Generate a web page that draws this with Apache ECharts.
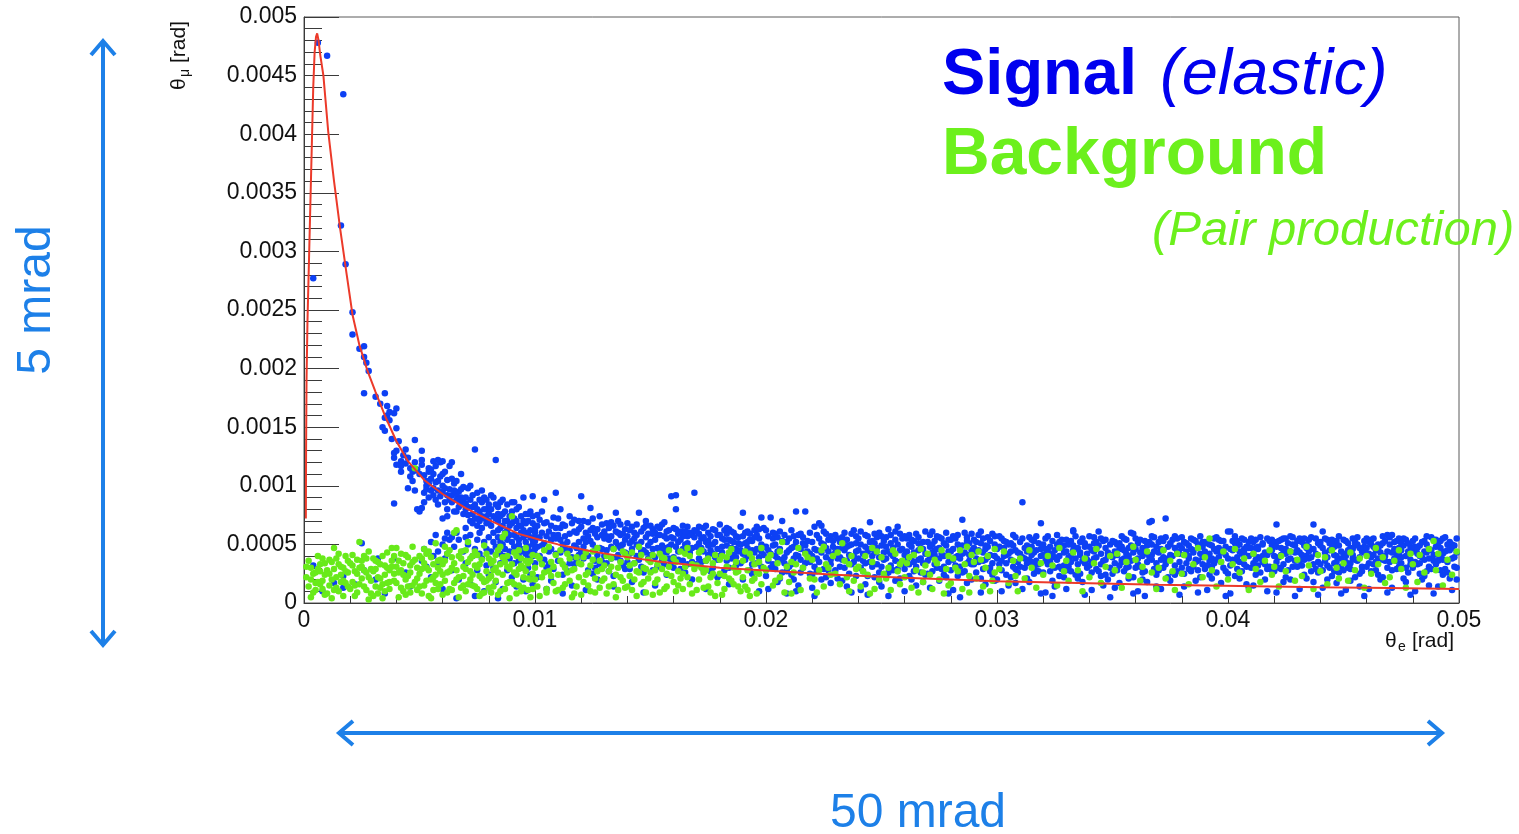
<!DOCTYPE html>
<html>
<head>
<meta charset="utf-8">
<title>θμ vs θe</title>
<script src="https://cdn.jsdelivr.net/npm/echarts@6/dist/echarts.min.js"></script>
<style>
  html, body { margin: 0; padding: 0; background: #ffffff; }
  #chart { width: 1519px; height: 834px; }
</style>
</head>
<body>
<div id="chart"></div>
<script>
// Point lists are flat [x, y, x, y, ...] in integer units:
// x in 0.1 mrad (1e-4 rad), y in 0.01 mrad (1e-5 rad).

// Signal (elastic) near the kinematic peak
const signalPeak = [
  6,478, 10,467, 17,434, 16,322, 18,289, 4,277, 21,248, 21,229, 24,217, 26,219, 26,210, 27,205, 28,198,
  26,179, 31,176, 35,179, 33,170, 36,168, 40,166, 36,160, 37,163, 39,162, 35,158, 37,156, 34,150, 35,147,
  40,149, 48,139, 51,130, 40,130, 39,124, 42,121, 42,117, 47,112, 46,115, 48,113, 54,115, 58,122, 59,120,
  60,121, 56,110, 25,51
];

// Signal following the falling curve, 4–10 mrad
const signalRise = [
  38,140, 41,138, 39,128, 43,126, 44,119, 45,124, 40,118, 46,108, 48,120, 49,114, 47,104, 50,110, 44,131,
  42,112, 39,85, 49,80, 50,78, 51,81, 45,98, 48,96,
  51,118, 52,109, 53,100, 54,112, 55,106, 56,98, 57,103, 58,96, 52,94, 54,90, 55,114, 57,88, 59,108, 60,100,
  53,97, 56,92, 58,84, 60,95, 59,91, 55,96, 51,122, 53,104, 57,117, 60,110, 52,86, 58,104, 56,121, 54,102,
  61,112, 62,105, 63,97, 64,92, 65,102, 66,88, 67,95, 68,84, 69,99, 70,90, 61,86, 62,80, 63,117, 64,120,
  65,78, 66,93, 67,82, 68,97, 69,76, 70,85, 62,92, 64,86, 66,104, 68,90, 61,98, 63,88, 65,96, 67,88, 69,86,
  70,80, 62,74, 66,78, 68,110, 64,106, 60,72, 61,55, 63,54, 64,56, 62,60,
  71,98, 72,88, 73,82, 74,131, 75,94, 76,78, 77,86, 78,72, 79,80, 80,76, 71,75, 72,70, 73,92, 74,84, 75,66,
  76,88, 77,74, 78,90, 79,68, 80,84, 71,82, 73,76, 75,80, 77,96, 79,74, 72,100, 76,70, 78,80, 74,72, 70,64,
  79,88, 75,72, 73,68, 77,64,
  81,80, 82,74, 83,122, 84,70, 85,86, 86,66, 87,78, 88,62, 89,74, 90,68, 81,66, 82,90, 83,72, 84,82, 85,64,
  86,76, 87,60, 88,84, 89,66, 90,78, 82,60, 84,62, 86,88, 88,70, 80,70, 83,84, 85,74, 87,70, 89,58, 90,86,
  81,92, 86,56, 84,76, 88,56,
  91,72, 92,64, 93,82, 94,60, 95,70, 96,58, 97,76, 98,62, 99,68, 100,56, 91,58, 92,80, 93,66, 94,74, 95,56,
  96,68, 97,60, 98,78, 99,54, 100,66, 92,70, 94,66, 96,76, 98,56, 91,86, 93,54, 95,62, 97,70, 99,74, 100,60,
  95,90, 99,91,
  52,46, 55,52, 58,44, 60,50, 62,42, 65,48, 67,54, 69,44, 71,50, 72,58, 74,46, 75,54, 76,42, 78,52, 79,46,
  80,56, 81,44, 82,52, 83,48, 84,56, 85,42, 86,50, 87,46, 88,54, 89,44, 90,52, 91,48, 92,42, 93,50, 94,46,
  95,44, 96,52, 97,48, 98,44, 99,50, 100,46, 73,40, 77,38, 81,36, 85,52, 89,38, 93,40, 97,38, 57,58, 66,60,
  70,56, 76,60, 84,46, 92,56, 96,42, 99,40
];

// Signal at small θμ, 0–10 mrad
const signalLow = [
  4,32, 13,17, 17,13, 17,23, 8,10, 22,16, 26,28, 31,20, 32,38, 39,38, 35,8, 44,26, 46,14, 51,36, 53,31,
  56,40, 58,33, 61,38, 55,22, 60,12, 64,28, 67,20, 70,34, 72,16, 75,28, 78,10, 80,24, 82,30, 83,18, 85,34,
  86,12, 88,28, 90,22, 91,34, 92,14, 94,30, 95,20, 96,10, 97,30, 98,24, 99,16, 100,34, 74,6, 66,4, 79,32,
  87,40, 93,36, 84,4
];

// Signal band, 10–20 mrad
const signalBand1 = [
  100,62, 101,48, 102,71, 103,35, 104,88, 105,57, 106,44, 107,66, 108,29, 109,94, 100,53, 101,75, 102,40, 103,60, 104,51, 105,69, 106,33, 107,46, 108,58, 109,64, 100,41, 101,22, 102,56, 103,78, 104,37, 105,12, 106,61, 107,54, 108,73, 109,42, 101,66, 103,49, 105,30, 107,19, 109,55, 104,68,
  110,58, 111,43, 112,67, 113,31, 114,52, 115,74, 116,39, 117,61, 118,47, 119,70, 110,36, 111,64, 112,50, 113,57, 114,27, 115,45, 116,68, 117,33, 118,60, 119,41, 110,72, 111,54, 112,24, 113,66, 114,44, 115,59, 116,15, 117,49, 118,37, 119,63, 111,80, 113,46, 115,34, 117,71, 119,52, 112,8,
  120,91, 121,55, 122,42, 123,69, 124,81, 125,50, 126,36, 127,63, 128,47, 129,58, 120,65, 121,38, 122,60, 123,28, 124,53, 125,72, 126,45, 127,56, 128,33, 129,67, 120,44, 121,70, 122,52, 123,40, 124,62, 125,25, 126,59, 127,41, 128,74, 129,35, 121,48, 123,57, 125,64, 127,20, 129,46, 122,11, 126,30,
  130,61, 131,45, 132,54, 133,38, 134,66, 135,77, 136,49, 137,58, 138,32, 139,63, 130,40, 131,68, 132,27, 133,57, 134,46, 135,52, 136,70, 137,36, 138,59, 139,43, 130,55, 131,34, 132,64, 133,48, 134,23, 135,61, 136,41, 137,67, 138,50, 139,29, 131,57, 133,69, 135,39, 137,47, 139,54, 134,14, 136,60,
  140,57, 141,42, 142,65, 143,34, 144,50, 145,77, 146,61, 147,45, 148,56, 149,38, 140,68, 141,29, 142,53, 143,60, 144,40, 145,48, 146,31, 147,64, 148,43, 149,59, 140,35, 141,62, 142,46, 143,55, 144,67, 145,37, 146,52, 147,26, 148,66, 149,49, 142,18, 144,58, 146,44, 148,70, 141,51, 147,9,
  150,52, 151,63, 152,39, 153,58, 154,45, 155,67, 156,33, 157,55, 158,48, 159,91, 150,41, 151,28, 152,60, 153,47, 154,64, 155,36, 156,57, 157,43, 158,62, 159,50, 150,66, 151,46, 152,54, 153,31, 154,58, 155,49, 156,69, 157,24, 158,38, 159,56, 151,59, 153,65, 155,42, 157,61, 159,34, 152,15, 156,47,
  160,55, 161,80, 162,44, 163,61, 164,36, 165,50, 166,65, 167,42, 168,58, 169,94, 160,39, 161,63, 162,52, 163,29, 164,57, 165,45, 166,33, 167,60, 168,47, 169,62, 160,64, 161,48, 162,37, 163,54, 164,66, 165,26, 166,51, 167,43, 168,35, 169,56, 162,59, 164,46, 166,57, 168,20, 160,30, 165,61, 161,92,
  170,48, 171,59, 172,35, 173,64, 174,52, 175,41, 176,57, 177,30, 178,62, 179,46, 170,61, 171,38, 172,55, 173,44, 174,66, 175,53, 176,27, 177,50, 178,39, 179,58, 170,33, 171,65, 172,47, 173,56, 174,36, 175,60, 176,45, 177,63, 178,52, 179,22, 171,51, 173,28, 175,49, 177,42, 179,37, 174,12,
  180,58, 181,43, 182,62, 183,36, 184,54, 185,47, 186,60, 187,32, 188,51, 189,65, 180,40, 181,55, 182,28, 183,49, 184,63, 185,38, 186,52, 187,57, 188,44, 189,34, 180,67, 181,48, 182,54, 183,59, 184,30, 185,61, 186,41, 187,46, 188,56, 189,50, 181,24, 183,64, 185,53, 187,39, 189,45, 184,16,
  190,77, 191,51, 192,40, 193,59, 194,45, 195,62, 196,34, 197,55, 198,73, 199,48, 190,57, 191,37, 192,61, 193,28, 194,53, 195,43, 196,58, 197,39, 198,50, 199,64, 190,42, 191,60, 192,47, 193,54, 194,33, 195,56, 196,46, 197,63, 198,31, 199,41, 192,52, 194,25, 196,65, 198,44, 190,20, 197,10
];

// Signal band, 20–30 mrad
const signalBand2 = [
  200,48, 201,36, 202,73, 203,55, 204,29, 205,44, 206,61, 207,70, 208,39, 209,52, 200,23, 201,57, 202,42, 203,33, 204,50, 205,18, 206,46, 207,37, 208,58, 209,27, 200,62, 201,45, 202,30, 203,49, 204,40, 205,56, 206,21, 207,53, 208,34, 209,43, 201,12, 203,60, 205,38, 207,26, 209,8, 204,59,
  210,45, 211,33, 212,57, 213,78, 214,40, 215,26, 216,51, 217,78, 218,36, 219,60, 210,55, 211,47, 212,20, 213,41, 214,58, 215,37, 216,30, 217,49, 218,44, 219,25, 210,31, 211,62, 212,38, 213,52, 214,15, 215,46, 216,56, 217,34, 218,53, 219,42, 211,24, 213,10, 215,59, 217,43, 219,35, 212,48,
  220,52, 221,65, 222,38, 223,68, 224,66, 225,29, 226,47, 227,54, 228,33, 229,41, 220,24, 221,46, 222,58, 223,35, 224,20, 225,50, 226,39, 227,28, 228,57, 229,48, 220,40, 221,31, 222,45, 223,55, 224,43, 225,61, 226,22, 227,44, 228,37, 229,53, 220,13, 222,27, 224,51, 226,59, 228,17, 221,6,
  230,43, 231,55, 232,31, 233,47, 234,60, 235,36, 236,25, 237,50, 238,40, 239,57, 230,28, 231,38, 232,52, 233,19, 234,45, 235,54, 236,41, 237,33, 238,62, 239,23, 230,58, 231,46, 232,39, 233,56, 234,30, 235,14, 236,49, 237,59, 238,35, 239,44, 231,21, 233,37, 235,48, 237,9, 239,51, 234,53,
  240,38, 241,50, 242,27, 243,58, 244,44, 245,35, 246,53, 247,22, 248,47, 249,60, 240,55, 241,30, 242,42, 243,16, 244,57, 245,69, 246,40, 247,51, 248,33, 249,26, 240,45, 241,61, 242,36, 243,48, 244,23, 245,52, 246,31, 247,43, 248,56, 249,39, 241,11, 243,34, 245,46, 247,59, 249,18, 244,7,
  250,49, 251,37, 252,56, 253,63, 254,42, 255,28, 256,54, 257,65, 258,35, 259,46, 250,31, 251,53, 252,24, 253,44, 254,58, 255,40, 256,19, 257,50, 258,59, 259,33, 250,57, 251,43, 252,38, 253,26, 254,51, 255,47, 256,36, 257,29, 258,45, 259,55, 250,14, 252,48, 254,32, 256,61, 258,21, 253,6,
  260,41, 261,55, 262,33, 263,48, 264,27, 265,59, 266,45, 267,38, 268,52, 269,24, 260,57, 261,36, 262,50, 263,20, 264,43, 265,31, 266,56, 267,47, 268,34, 269,61, 260,29, 261,44, 262,58, 263,39, 264,53, 265,15, 266,37, 267,26, 268,46, 269,42, 260,10, 262,23, 264,35, 266,51, 268,18, 263,54,
  270,52, 271,39, 272,61, 273,45, 274,30, 275,56, 276,42, 277,24, 278,49, 279,35, 270,36, 271,58, 272,27, 273,53, 274,46, 275,19, 276,55, 277,40, 278,60, 279,44, 270,25, 271,48, 272,43, 273,33, 274,57, 275,38, 276,29, 277,51, 278,22, 279,54, 271,13, 273,41, 275,47, 277,31, 279,8, 272,50,
  280,44, 281,57, 282,32, 283,50, 284,38, 285,71, 286,27, 287,53, 288,41, 289,59, 280,28, 281,37, 282,55, 283,23, 284,47, 285,42, 286,60, 287,34, 288,51, 289,20, 280,54, 281,46, 282,39, 283,58, 284,31, 285,49, 286,43, 287,17, 288,36, 289,45, 281,11, 283,40, 285,26, 287,56, 289,33, 284,5,
  290,54, 291,38, 292,58, 293,61, 294,29, 295,46, 296,56, 297,41, 298,24, 299,50, 290,33, 291,52, 292,45, 293,21, 294,55, 295,37, 296,48, 297,30, 298,59, 299,40, 290,47, 291,26, 292,35, 293,51, 294,43, 295,16, 296,39, 297,53, 298,34, 299,57, 291,44, 293,9, 295,49, 297,27, 299,19, 294,36
];

// Signal band, 30–40 mrad
const signalBand3 = [
  300,46, 301,33, 302,55, 303,40, 304,24, 305,50, 306,37, 307,58, 308,29, 309,43, 300,20, 301,48, 302,36, 303,53, 304,41, 305,15, 306,51, 307,31, 308,45, 309,26, 300,38, 301,57, 302,28, 303,47, 304,34, 305,42, 306,22, 307,49, 308,56, 309,35, 302,10, 304,52, 306,44, 308,17,
  310,42, 311,86, 312,30, 313,49, 314,37, 315,54, 316,25, 317,45, 318,33, 319,68, 310,52, 311,39, 312,47, 313,21, 314,56, 315,35, 316,43, 317,28, 318,51, 319,40, 310,31, 311,55, 312,38, 313,44, 314,18, 315,48, 316,53, 317,36, 318,27, 319,46, 311,12, 313,34, 315,41, 317,57, 319,8, 316,32,
  320,50, 321,36, 322,44, 323,27, 324,53, 325,39, 326,58, 327,31, 328,47, 329,22, 320,41, 321,55, 322,33, 323,48, 324,19, 325,45, 326,37, 327,52, 328,29, 329,43, 320,26, 321,46, 322,57, 323,35, 324,42, 325,14, 326,50, 327,40, 328,54, 329,32, 321,9, 323,38, 325,30, 327,23, 329,49, 324,6,
  330,44, 331,31, 332,53, 333,61, 334,38, 335,47, 336,25, 337,55, 338,34, 339,42, 330,28, 331,50, 332,40, 333,62, 334,46, 335,21, 336,52, 337,36, 338,48, 339,30, 330,54, 331,39, 332,27, 333,45, 334,57, 335,33, 336,43, 337,18, 338,51, 339,37, 330,12, 332,35, 334,24, 336,41, 338,7, 333,49,
  340,48, 341,35, 342,56, 343,29, 344,61, 345,42, 346,53, 347,24, 348,40, 349,50, 340,32, 341,45, 342,38, 343,52, 344,27, 345,55, 346,36, 347,47, 348,20, 349,41, 340,57, 341,26, 342,44, 343,39, 344,49, 345,33, 346,15, 347,54, 348,43, 349,30, 341,11, 343,46, 345,23, 347,37, 349,5, 342,51,
  350,39, 351,52, 352,28, 353,46, 354,35, 355,55, 356,42, 357,21, 358,49, 359,59, 350,25, 351,44, 352,50, 353,32, 354,57, 355,38, 356,30, 357,47, 358,36, 359,43, 350,53, 351,34, 352,41, 353,17, 354,48, 355,27, 356,54, 357,40, 358,60, 359,22, 351,13, 353,51, 355,45, 357,31, 359,8, 354,37,
  360,46, 361,33, 362,54, 363,40, 364,27, 365,49, 366,69, 367,37, 368,56, 369,24, 360,30, 361,51, 362,43, 363,20, 364,45, 365,35, 366,52, 367,41, 368,29, 369,48, 360,55, 361,38, 362,31, 363,47, 364,53, 365,18, 366,39, 367,57, 368,44, 369,34, 361,10, 363,26, 365,42, 367,50, 369,14, 364,6, 367,70,
  370,43, 371,55, 372,30, 373,72, 374,38, 375,50, 376,26, 377,47, 378,55, 379,35, 370,52, 371,37, 372,45, 373,56, 374,22, 375,41, 376,54, 377,32, 378,44, 379,49, 370,28, 371,46, 372,53, 373,36, 374,48, 375,19, 376,40, 377,57, 378,27, 379,42, 371,12, 373,33, 375,51, 377,24, 379,7, 372,39,
  380,56, 381,41, 382,34, 383,49, 384,27, 385,45, 386,53, 387,36, 388,22, 389,48, 380,30, 381,52, 382,44, 383,38, 384,55, 385,31, 386,19, 387,50, 388,42, 389,33, 380,47, 381,25, 382,51, 383,40, 384,46, 385,54, 386,35, 387,28, 388,57, 389,39, 381,14, 383,29, 385,43, 387,9, 389,52, 386,37,
  390,44, 391,32, 392,50, 393,38, 394,55, 395,26, 396,47, 397,35, 398,53, 399,41, 390,29, 391,51, 392,42, 393,21, 394,46, 395,37, 396,54, 397,43, 398,30, 399,48, 390,52, 391,40, 392,24, 393,49, 394,34, 395,56, 396,39, 397,17, 398,45, 399,27, 391,11, 393,31, 395,44, 397,53, 399,6, 392,36
];

// Signal band, 40–50 mrad
const signalBand4 = [
  400,61, 401,61, 402,37, 403,51, 404,29, 405,44, 406,55, 407,33, 408,48, 409,40, 400,25, 401,46, 402,53, 403,36, 404,49, 405,21, 406,42, 407,54, 408,31, 409,47, 400,38, 401,32, 402,45, 403,57, 404,39, 405,50, 406,27, 407,43, 408,16, 409,52, 401,8, 403,23, 405,35, 407,46, 409,13, 404,53,
  410,47, 411,34, 412,54, 413,39, 414,26, 415,50, 416,43, 417,55, 418,31, 419,45, 410,30, 411,52, 412,37, 413,48, 414,56, 415,35, 416,20, 417,41, 418,53, 419,28, 410,55, 411,42, 412,24, 413,46, 414,38, 415,51, 416,33, 417,29, 418,44, 419,54, 411,15, 413,32, 415,40, 417,10, 419,49, 412,47,
  420,52, 421,67, 422,39, 423,47, 424,33, 425,55, 426,28, 427,44, 428,50, 429,36, 420,40, 421,48, 422,30, 423,54, 424,45, 425,22, 426,51, 427,38, 428,56, 429,43, 420,27, 421,35, 422,53, 423,41, 424,18, 425,46, 426,37, 427,57, 428,31, 429,49, 421,9, 423,29, 425,42, 427,20, 429,6, 424,55,
  430,45, 431,55, 432,32, 433,49, 434,40, 435,54, 436,27, 437,67, 438,42, 439,35, 430,31, 431,43, 432,52, 433,24, 434,47, 435,38, 436,56, 437,46, 438,29, 439,51, 430,53, 431,36, 432,41, 433,55, 434,21, 435,44, 436,39, 437,33, 438,55, 439,26, 431,12, 433,37, 435,48, 437,18, 439,7, 434,50,
  440,49, 441,61, 442,36, 443,54, 444,30, 445,46, 446,41, 447,53, 448,26, 449,44, 440,33, 441,47, 442,55, 443,39, 444,51, 445,23, 446,48, 447,35, 448,57, 449,31, 440,52, 441,28, 442,43, 443,20, 444,45, 445,54, 446,34, 447,40, 448,49, 449,38, 441,13, 443,32, 445,50, 447,17, 449,8, 446,27,
  450,42, 451,53, 452,30, 453,47, 454,55, 455,37, 456,50, 457,25, 458,44, 459,53, 450,28, 451,40, 452,51, 453,34, 454,46, 455,22, 456,56, 457,39, 458,31, 459,48, 450,54, 451,35, 452,45, 453,19, 454,41, 455,52, 456,36, 457,47, 458,27, 459,43, 451,11, 453,29, 455,49, 457,14, 459,6, 454,38,
  460,47, 461,34, 462,54, 463,41, 464,28, 465,50, 466,43, 467,57, 468,36, 469,58, 460,31, 461,52, 462,39, 463,55, 464,45, 465,24, 466,49, 467,37, 468,53, 469,30, 460,55, 461,42, 462,27, 463,48, 464,35, 465,46, 466,20, 467,51, 468,40, 469,44, 461,12, 463,33, 465,38, 467,22, 469,9, 462,50,
  470,50, 471,58, 472,38, 473,53, 474,31, 475,45, 476,55, 477,40, 478,26, 479,48, 470,35, 471,43, 472,52, 473,29, 474,47, 475,39, 476,21, 477,54, 478,44, 479,33, 470,56, 471,28, 472,46, 473,41, 474,55, 475,34, 476,49, 477,18, 478,51, 479,37, 471,13, 473,36, 475,51, 477,30, 479,7, 474,42,
  480,44, 481,55, 482,33, 483,49, 484,39, 485,53, 486,27, 487,46, 488,56, 489,36, 480,30, 481,48, 482,42, 483,25, 484,52, 485,37, 486,50, 487,31, 488,45, 489,54, 480,53, 481,35, 482,47, 483,40, 484,20, 485,44, 486,57, 487,38, 488,29, 489,41, 481,10, 483,34, 485,23, 487,15, 489,8, 486,43,
  490,48, 491,36, 492,53, 493,42, 494,29, 495,50, 496,45, 497,50, 498,39, 499,55, 490,33, 491,51, 492,40, 493,55, 494,44, 495,26, 496,52, 497,47, 498,31, 499,43, 490,54, 491,41, 492,28, 493,37, 494,56, 495,35, 496,21, 497,38, 498,49, 499,30, 491,14, 493,24, 495,45, 497,11, 499,20, 492,47
];

// Background (pair production), 0–10 mrad
const backgroundNear = [
  1,22, 2,14, 3,30, 4,9, 5,26, 6,18, 7,33, 8,12, 9,24, 2,36, 3,20, 5,11, 6,29, 7,16, 8,38, 9,7, 1,31, 4,25, 6,40, 8,19, 3,5, 7,27, 9,34, 5,17,
  10,28, 11,15, 12,35, 13,47, 14,22, 15,10, 16,31, 17,19, 18,40, 19,26, 10,8, 11,37, 12,20, 13,29, 14,13, 15,33, 16,24, 17,6, 18,17, 19,36, 11,25, 13,11, 15,42, 17,30, 19,14, 12,4, 14,38, 16,18, 18,27,
  20,34, 21,18, 22,27, 23,9, 24,52, 25,31, 26,14, 27,38, 28,22, 29,29, 20,12, 21,41, 22,6, 23,25, 24,16, 25,36, 26,28, 27,11, 28,44, 29,19, 21,32, 23,37, 25,21, 27,26, 29,8, 22,15, 24,30, 26,40, 28,3,
  30,27, 31,14, 32,35, 33,21, 34,40, 35,10, 36,30, 37,18, 38,47, 39,25, 30,38, 31,29, 32,8, 33,33, 34,16, 35,24, 36,43, 37,12, 38,31, 39,19, 30,6, 31,36, 33,13, 35,32, 37,28, 39,40, 32,22, 34,4, 36,17, 38,36,
  40,47, 41,26, 42,13, 43,34, 44,20, 45,39, 46,9, 47,48, 48,115, 49,30, 40,17, 41,36, 42,28, 43,10, 44,41, 45,23, 46,32, 47,15, 48,37, 49,21, 40,31, 42,42, 44,7, 46,26, 48,18, 41,5, 43,24, 45,14, 47,35, 49,11,
  50,25, 51,38, 52,15, 53,30, 54,44, 55,20, 56,33, 57,51, 58,12, 59,27, 50,40, 51,8, 52,34, 53,19, 54,28, 55,39, 56,11, 57,24, 58,36, 59,16, 50,14, 52,46, 54,6, 56,22, 58,30, 51,29, 53,42, 55,4, 57,17, 59,37,
  60,33, 61,19, 62,42, 63,27, 64,11, 65,60, 66,62, 67,22, 68,38, 69,15, 60,24, 61,36, 62,9, 63,45, 64,30, 65,17, 66,28, 67,40, 68,13, 69,31, 60,7, 62,26, 64,39, 66,20, 68,44, 61,48, 63,12, 65,34, 67,5, 69,23,
  70,29, 71,16, 72,38, 73,24, 74,44, 75,12, 76,33, 77,21, 78,49, 79,27, 70,10, 71,35, 72,20, 73,40, 74,14, 75,30, 76,6, 77,37, 78,18, 79,42, 70,45, 72,27, 74,32, 76,23, 78,9, 71,52, 73,15, 75,41, 77,8, 79,19,
  80,21, 81,34, 82,14, 83,41, 84,26, 85,10, 86,56, 87,59, 88,31, 89,18, 80,38, 81,9, 82,28, 83,19, 84,45, 85,33, 86,24, 87,12, 88,40, 89,29, 80,13, 82,36, 84,7, 86,39, 88,17, 81,23, 83,30, 85,48, 87,35, 89,4,
  90,74, 91,26, 92,40, 93,15, 94,32, 95,22, 96,47, 97,11, 98,36, 99,25, 90,18, 91,43, 92,8, 93,29, 94,38, 95,13, 96,27, 97,34, 98,20, 99,41, 90,33, 92,24, 94,10, 96,36, 98,5, 91,16, 93,45, 95,30, 97,21, 99,12
];

// Background, 10–20 mrad
const backgroundMid = [
  100,30, 101,14, 102,38, 103,22, 104,45, 105,9, 106,27, 107,35, 108,17, 109,41, 100,20, 102,6, 103,33, 104,26, 105,12, 106,48, 107,23, 108,31, 109,10, 101,40,
  110,24, 111,36, 112,13, 113,30, 114,42, 115,19, 116,28, 117,8, 118,39, 119,22, 110,11, 111,45, 112,33, 113,16, 114,26, 115,38, 116,5, 117,29, 118,14, 119,34,
  120,33, 121,18, 122,43, 123,26, 124,10, 125,37, 126,21, 127,47, 128,13, 129,29, 120,7, 121,39, 122,24, 123,15, 124,32, 125,44, 126,9, 127,27, 128,36, 129,19,
  130,21, 131,40, 132,14, 133,31, 134,46, 135,24, 136,11, 137,35, 138,19, 139,42, 130,32, 131,8, 132,27, 133,38, 134,16, 135,5, 136,30, 137,22, 138,44, 139,13,
  140,39, 141,23, 142,11, 143,34, 144,27, 145,48, 146,16, 147,30, 148,9, 149,37, 140,14, 141,32, 142,43, 143,20, 144,6, 145,26, 146,41, 147,18, 148,29, 149,21,
  150,26, 151,41, 152,17, 153,33, 154,9, 155,29, 156,38, 157,14, 158,45, 159,23, 150,35, 152,28, 154,42, 156,12, 158,31, 151,7, 153,20, 155,39, 157,25,
  160,18, 161,35, 162,27, 163,44, 164,12, 165,31, 166,22, 167,40, 168,8, 169,29, 160,38, 162,15, 164,25, 166,47, 168,33, 161,10, 163,21, 165,42, 167,16,
  170,32, 171,20, 172,45, 173,13, 174,28, 175,38, 176,9, 177,25, 178,41, 179,17, 170,11, 172,30, 174,36, 176,22, 178,6, 171,43, 173,26, 175,14, 177,34,
  180,25, 181,40, 182,12, 183,31, 184,21, 185,46, 186,16, 187,35, 188,27, 189,10, 180,37, 182,23, 184,43, 186,30, 188,14, 181,7, 183,39, 185,19, 187,26,
  190,36, 191,14, 192,28, 193,42, 194,19, 195,33, 196,8, 197,25, 198,47, 199,30, 190,22, 192,11, 194,38, 196,26, 198,16, 191,44, 193,6, 195,21, 197,35
];

// Background, 20–50 mrad
const backgroundFar = [
  200,28, 202,41, 203,15, 205,34, 206,22, 207,52, 208,9, 209,31, 201,38, 204,19, 206,44,
  210,18, 211,35, 212,26, 214,47, 215,11, 216,30, 218,39, 219,21, 211,8, 213,33, 217,42,
  220,37, 221,20, 223,28, 224,45, 225,14, 226,33, 228,24, 229,40, 222,9, 225,48, 227,30,
  230,25, 231,43, 232,16, 234,36, 235,22, 236,10, 237,40, 239,29, 233,51, 236,33, 238,19,
  240,31, 241,14, 243,40, 244,24, 245,8, 246,35, 248,44, 249,20, 242,27, 246,47, 247,12,
  250,39, 252,21, 253,30, 254,11, 255,45, 257,27, 258,16, 259,36, 251,25, 256,42, 258,33,
  260,22, 261,34, 263,13, 264,41, 265,28, 267,46, 268,18, 269,32, 262,39, 266,9, 268,26,
  270,42, 271,24, 272,12, 274,34, 275,20, 276,45, 278,29, 279,15, 273,37, 277,8, 279,40,
  280,17, 281,38, 283,27, 284,45, 285,12, 286,33, 288,23, 289,41, 282,30, 287,48, 288,9,
  290,35, 291,21, 292,44, 294,14, 295,30, 296,40, 297,10, 299,26, 293,37, 298,19, 299,46,
  301,29, 303,44, 305,17, 307,36, 308,23, 309,10, 310,38, 312,21, 314,45, 315,30, 317,13, 319,34,
  320,24, 322,40, 324,32, 326,15, 327,47, 329,27, 330,36, 331,19, 333,43, 335,28, 337,10, 338,38,
  340,22, 342,34, 343,46, 345,17, 347,31, 349,40, 351,28, 352,42, 354,13, 356,35, 357,23, 359,48,
  360,37, 362,19, 363,31, 365,44, 367,26, 369,12, 370,30, 372,45, 373,21, 375,36, 377,11, 378,42, 376,27,
  380,25, 381,41, 383,16, 385,33, 387,47, 389,22, 390,39, 392,55, 393,28, 395,14, 397,35, 398,44,
  400,20, 402,33, 403,46, 405,26, 407,38, 409,11, 411,42, 412,29, 414,18, 416,36, 418,45, 419,24,
  420,31, 422,14, 423,40, 425,27, 427,44, 429,19, 430,37, 432,23, 434,48, 435,32, 437,12, 439,41,
  440,27, 442,39, 443,16, 445,45, 447,30, 448,21, 450,34, 452,19, 453,43, 455,28, 457,38, 459,13,
  460,40, 462,25, 464,47, 465,33, 467,39, 468,17, 470,22, 472,36, 474,45, 475,29, 477,13, 479,42,
  480,33, 482,18, 483,41, 485,26, 487,46, 489,53, 490,28, 491,42, 493,15, 495,37, 497,24, 499,44
];

// Elastic kinematic curve θμ(θe), both in mrad
const curveX = [0.08, 0.09, 0.11, 0.15, 0.2, 0.25, 0.3, 0.35, 0.4, 0.46, 0.52, 0.57, 0.63, 0.7, 0.84, 1.05, 1.3, 1.56,
  1.85, 2.1, 2.4, 2.75, 3.1, 3.5, 4.0, 4.5, 5.2, 6.0, 6.5, 7.0, 8.0, 9.3, 10.2, 11, 12.5, 13.7, 15.5, 18, 20.5, 23,
  26, 30, 33.5, 37, 40.5, 44, 47, 50];
const curveY = [0.72, 1.3, 1.9, 2.4, 2.8, 3.2, 3.6, 4.0, 4.4, 4.7, 4.83, 4.86, 4.8, 4.68, 4.5, 4.02, 3.6, 3.2,
  2.8, 2.46, 2.2, 1.98, 1.8, 1.6, 1.38, 1.21, 1.05, 0.93, 0.87, 0.81, 0.71, 0.59, 0.54, 0.5, 0.44, 0.4, 0.35, 0.3,
  0.27, 0.24, 0.215, 0.185, 0.17, 0.155, 0.145, 0.135, 0.127, 0.12];

// Axis ranges and tick steps (rad)
const xRange = [0, 0.05], xStep = 0.01;
const yRange = [0, 0.005], yStep = 0.0005;

const FONT = "'Liberation Sans', Arial, Helvetica, sans-serif";
const SIGNAL_DOT = '#0d40f4';
const BACKGROUND_DOT = '#68ea1a';
const ARROW = '#1d80e8';

function toPoints(flat) {
  const out = [];
  for (let i = 0; i < flat.length; i += 2) out.push([flat[i] * 1e-4, flat[i + 1] * 1e-5]);
  return out;
}

const signalPoints = [].concat(
  toPoints(signalPeak), toPoints(signalRise), toPoints(signalLow),
  toPoints(signalBand1), toPoints(signalBand2), toPoints(signalBand3), toPoints(signalBand4)
);
const backgroundPoints = [].concat(
  toPoints(backgroundNear), toPoints(backgroundMid), toPoints(backgroundFar)
);
const curvePoints = curveX.map((x, i) => [x * 1e-3, curveY[i] * 1e-3]);

function fmt(v) { return String(+v.toFixed(5)); }

const chart = echarts.init(document.getElementById('chart'), null, { renderer: 'canvas' });

const tickStyle = { color: '#3a3a3a', width: 1 };

chart.setOption({
  animation: false,
  backgroundColor: '#ffffff',
  grid: {
    left: 304, top: 17, width: 1155, height: 586,
    show: true, borderColor: '#5a5a5a', borderWidth: 1, backgroundColor: 'transparent'
  },
  xAxis: {
    type: 'value', min: xRange[0], max: xRange[1], interval: xStep,
    axisLine: { show: true, onZero: false, lineStyle: { color: '#3a3a3a', width: 1 } },
    axisTick: { show: true, inside: true, length: 13, lineStyle: tickStyle },
    minorTick: { show: true, splitNumber: 5, length: 7, lineStyle: tickStyle },
    splitLine: { show: false },
    axisLabel: { fontSize: 23, color: '#111', margin: 6, fontFamily: FONT, formatter: fmt }
  },
  yAxis: {
    type: 'value', min: yRange[0], max: yRange[1], interval: yStep,
    axisLine: { show: true, onZero: false, lineStyle: { color: '#3a3a3a', width: 1 } },
    axisTick: { show: true, inside: true, length: 35, lineStyle: tickStyle },
    minorTick: { show: true, splitNumber: 5, length: 18, lineStyle: tickStyle },
    splitLine: { show: false },
    axisLabel: { fontSize: 23, color: '#111', margin: 7, fontFamily: FONT, formatter: fmt }
  },
  series: [
    {
      name: 'Signal', type: 'scatter', data: signalPoints,
      symbol: 'circle', symbolSize: 6.5, z: 2,
      itemStyle: { color: SIGNAL_DOT, opacity: 1 }
    },
    {
      name: 'Background', type: 'scatter', data: backgroundPoints,
      symbol: 'circle', symbolSize: 6.5, z: 3,
      itemStyle: { color: BACKGROUND_DOT, opacity: 1 }
    },
    {
      name: 'Elastic curve', type: 'line', data: curvePoints,
      showSymbol: false, symbol: 'none', z: 4,
      lineStyle: { color: '#ec3a2a', width: 2 }
    }
  ],
  graphic: [
    // y-axis title: θμ [rad], reading upward
    {
      type: 'group', x: 179, y: 90, rotation: Math.PI / 2, silent: true,
      children: [
        { type: 'text', x: 0, y: 0, style: { text: 'θ', font: '21px ' + FONT, fill: '#111', textVerticalAlign: 'middle' } },
        { type: 'text', x: 13, y: 6, style: { text: 'μ', font: '14px ' + FONT, fill: '#111', textVerticalAlign: 'middle' } },
        { type: 'text', x: 27, y: 0, style: { text: '[rad]', font: '21px ' + FONT, fill: '#111', textVerticalAlign: 'middle' } }
      ]
    },
    // x-axis title: θe [rad], right-aligned under the axis end
    {
      type: 'group', x: 1385, y: 641, silent: true,
      children: [
        { type: 'text', x: 0, y: 0, style: { text: 'θ', font: '21px ' + FONT, fill: '#111', textVerticalAlign: 'middle' } },
        { type: 'text', x: 13, y: 6, style: { text: 'e', font: '14px ' + FONT, fill: '#111', textVerticalAlign: 'middle' } },
        { type: 'text', x: 27, y: 0, style: { text: '[rad]', font: '21px ' + FONT, fill: '#111', textVerticalAlign: 'middle' } }
      ]
    },
    // Legend-style annotations
    {
      type: 'text', x: 942, y: 76, silent: true,
      style: { text: 'Signal', font: 'bold 65px ' + FONT, fill: '#0000ee', textVerticalAlign: 'middle' }
    },
    {
      type: 'text', x: 1160, y: 76, silent: true,
      style: { text: '(elastic)', font: 'italic 65px ' + FONT, fill: '#0000ee', textVerticalAlign: 'middle' }
    },
    {
      type: 'text', x: 942, y: 156, silent: true,
      style: { text: 'Background', font: 'bold 66px ' + FONT, fill: '#6cf01c', textVerticalAlign: 'middle' }
    },
    {
      type: 'text', x: 1152, y: 231, silent: true,
      style: { text: '(Pair production)', font: 'italic 49px ' + FONT, fill: '#6cf01c', textVerticalAlign: 'middle' }
    },
    // Range arrows
    { type: 'line', silent: true, shape: { x1: 103, y1: 41, x2: 103, y2: 645 }, style: { stroke: ARROW, lineWidth: 4 } },
    { type: 'polyline', silent: true, shape: { points: [[91, 55], [103, 41], [115, 55]] }, style: { stroke: ARROW, lineWidth: 4, fill: null, lineJoin: 'miter' } },
    { type: 'polyline', silent: true, shape: { points: [[91, 631], [103, 645], [115, 631]] }, style: { stroke: ARROW, lineWidth: 4, fill: null, lineJoin: 'miter' } },
    { type: 'line', silent: true, shape: { x1: 339, y1: 733, x2: 1442, y2: 733 }, style: { stroke: ARROW, lineWidth: 4 } },
    { type: 'polyline', silent: true, shape: { points: [[353, 721], [339, 733], [353, 745]] }, style: { stroke: ARROW, lineWidth: 4, fill: null, lineJoin: 'miter' } },
    { type: 'polyline', silent: true, shape: { points: [[1428, 721], [1442, 733], [1428, 745]] }, style: { stroke: ARROW, lineWidth: 4, fill: null, lineJoin: 'miter' } },
    {
      type: 'text', x: 37, y: 300, rotation: Math.PI / 2, silent: true,
      style: { text: '5 mrad', font: '48px ' + FONT, fill: ARROW, textAlign: 'center', textVerticalAlign: 'middle' }
    },
    {
      type: 'text', x: 918, y: 814, silent: true,
      style: { text: '50 mrad', font: '48px ' + FONT, fill: ARROW, textAlign: 'center', textVerticalAlign: 'middle' }
    }
  ]
});
</script>
</body>
</html>
